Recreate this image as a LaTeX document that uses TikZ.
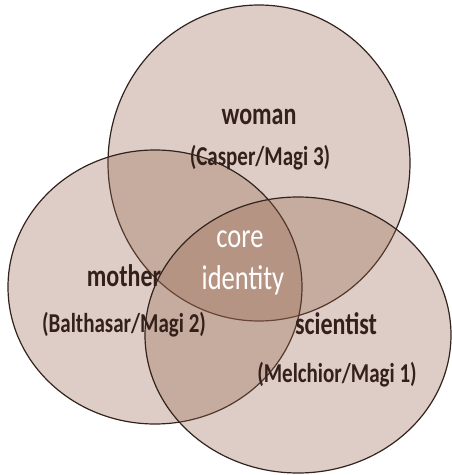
\documentclass[tikz,border=0pt]{standalone}
\usepackage{fontspec}
\usepackage{graphicx}
\setmainfont{Carlito}
\definecolor{fillbrown}{RGB}{150,102,78}
\definecolor{txtbrown}{RGB}{52,32,26}
\definecolor{edge}{RGB}{50,35,28}
\newcommand{\tallt}[1]{\scalebox{1}[1.3]{#1}}
\begin{document}
\begin{tikzpicture}[x=1pt,y=1pt,
  venn/.style={draw=edge,line width=1.2pt,fill=fillbrown,fill opacity=0.32},
  mainlbl/.style={text=txtbrown,font=\fontsize{24}{26}\selectfont\bfseries,anchor=base,inner sep=0pt},
  sublbl/.style={text=txtbrown,font=\fontsize{21}{24}\selectfont\bfseries,anchor=base,inner sep=0pt},
  corelbl/.style={text=white,font=\fontsize{26.5}{30}\selectfont,anchor=base,inner sep=0pt}]
\useasboundingbox (0,0) rectangle (452,475);
\fill[white] (0,0) rectangle (452,475);
\path[venn] (259,312) ellipse [x radius=151, y radius=158];
\path[venn] (155,188) ellipse [x radius=147, y radius=137];
\path[venn] (298,140) ellipse [x radius=153, y radius=138];
\node[mainlbl] (woman) at (259,350) {\tallt{woman}};
\node[sublbl] (casper) at (260,309) {\tallt{(Casper/Magi 3)}};
\node[mainlbl] (mother) at (124,188) {\tallt{mother}};
\node[sublbl] (balthasar) at (124,142) {\tallt{(Balthasar/Magi 2)}};
\node[mainlbl] (scientist) at (336,140) {\tallt{scientist}};
\node[sublbl] (melchior) at (337,92) {\tallt{(Melchior/Magi 1)}};
\node[corelbl] (core) at (240,227) {\tallt{core}};
\node[corelbl] (identity) at (243,185) {\tallt{identity}};
\end{tikzpicture}
\end{document}
